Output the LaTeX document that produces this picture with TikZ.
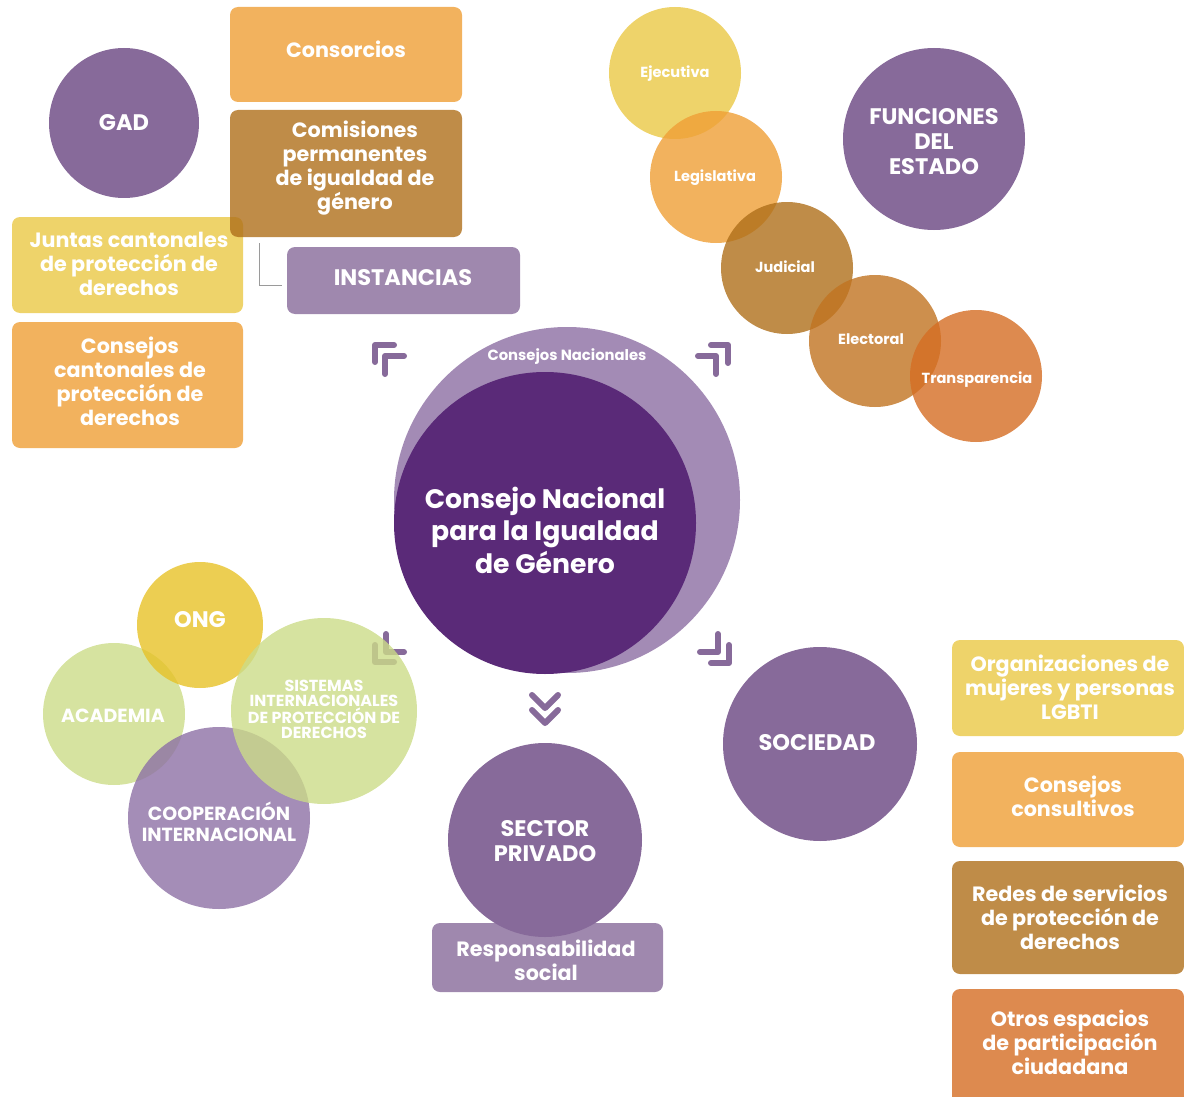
\documentclass[tikz,border=0pt]{standalone}
\usepackage{fontspec}
\setmainfont{Poppins}
\newcommand{\fsz}[2]{\fontsize{#1}{#2}\selectfont}
\definecolor{dpurple}{HTML}{5A2A78}
\definecolor{lpurple}{HTML}{A38BB5}
\definecolor{mpurple}{HTML}{876A9A}
\definecolor{bpurple}{HTML}{9F88AE}
\definecolor{cyellow}{HTML}{EED36A}
\definecolor{corange}{HTML}{F2B25E}
\definecolor{cbrown}{HTML}{BF8C48}
\definecolor{corangeB}{HTML}{DD8A4F}
% colours meant for fill opacity 0.8 over white
\definecolor{tyellow}{HTML}{EAC845}
\definecolor{torange}{HTML}{EF9F36}
\definecolor{tbrown}{HTML}{AF6F1A}
\definecolor{tbrownB}{HTML}{C17321}
\definecolor{torangeB}{HTML}{D56D23}
\definecolor{tgreen}{HTML}{CCDC88}
\definecolor{tong}{HTML}{E7C227}
\definecolor{tviolet}{HTML}{8D70A5}
\definecolor{lineg}{HTML}{9A9A9A}
\begin{document}
\begin{tikzpicture}[x=1pt,y=-1pt,
  circ/.style={circle, inner sep=0pt, minimum size=#1},
  tcirc/.style={circle, inner sep=0pt, minimum size=#1, fill opacity=0.8},
  box/.style={rectangle, rounded corners=8pt, inner sep=0pt},
  wt/.style={text=white, align=center, inner sep=0pt},
  boxtext/.style={wt, font=\bfseries\fsz{20.7}{24}},
  bigtext/.style={wt, font=\bfseries\fsz{22.5}{25}},
  smalltext/.style={wt, font=\bfseries\fsz{14.6}{16}},
  arr/.style={draw=mpurple, line width=6pt, line cap=round, line join=round},
  ]
\useasboundingbox (0,0) rectangle (1184,1097);

% ---------- decorative corner arrows ----------
\draw[arr] (375,362) -- (375,345) -- (394,345);
\draw[arr] (385,374) -- (385,356) -- (404,356);
\draw[arr] (711,345) -- (728,345) -- (728,363);
\draw[arr] (698,356) -- (716,356) -- (716,374);
\draw[arr] (375,645) -- (375,662) -- (394,662);
\draw[arr] (386,634) -- (386,652) -- (404,652);
\draw[arr] (718,634) -- (718,652) -- (700,652);
\draw[arr] (729,645) -- (729,663) -- (711,663);
\draw[arr] (532,695) -- (545,708) -- (558,695);
\draw[arr] (532,710) -- (545,723) -- (558,710);

% ---------- centre ----------
\node[circ=346pt, fill=lpurple] (cn) at (567,500) {};
\node[circ=302pt, fill=dpurple] (cnig) at (545,523) {};
\node[wt, font=\bfseries\fsz{14.8}{17}] (cn-t) at (567,357) {Consejos Nacionales};
\node[wt, font=\bfseries\fsz{26.7}{32.5}] (cnig-t) at (545,530) {Consejo Nacional\\para la Igualdad\\de Género};

% ---------- top left: GAD ----------
\node[circ=150pt, fill=mpurple] (gad) at (124,123) {};
\node[bigtext] (gad-t) at (124,123) {GAD};
\node[box, fill=corange, minimum width=232pt, minimum height=95pt] (consorcios) at (346,54.5) {};
\node[boxtext] (consorcios-t) at (346,49) {Consorcios};
\node[box, fill=cyellow, minimum width=231pt, minimum height=96pt] (juntas) at (127.5,265) {};
\node[box, fill=corange, minimum width=231pt, minimum height=126pt] (ccantonales) at (127.5,385) {};
\node[box, fill=tbrown, fill opacity=0.8, minimum width=232pt, minimum height=127pt] (comisiones) at (346,173.5) {};
\node[box, fill=bpurple, minimum width=233pt, minimum height=67pt] (instancias) at (403.5,280.5) {};
\node[boxtext] (comisiones-t) at (355,168.5) {Comisiones\\permanentes\\de igualdad de\\género};
\node[boxtext] (juntas-t) at (129,263.5) {Juntas cantonales\\de protección de\\derechos};
\node[boxtext] (ccantonales-t) at (130,381.5) {Consejos\\cantonales de\\protección de\\derechos};
\node[bigtext] (instancias-t) at (403,278) {INSTANCIAS};
\draw[lineg, line width=0.9pt] ([xshift=30pt,yshift=-6pt]comisiones.south west) |- ([xshift=-5pt,yshift=-4.5pt]instancias.west);

% ---------- top right: funciones del estado ----------
\node[circ=182pt, fill=mpurple] (funciones) at (934,139) {};
\node[bigtext] (funciones-t) at (934,142) {FUNCIONES\\DEL\\ESTADO};
\node[tcirc=132pt, fill=tyellow] (ejecutiva) at (675,73) {};
\node[tcirc=132pt, fill=torange] (legislativa) at (716,177) {};
\node[tcirc=132pt, fill=tbrown] (judicial) at (787,268) {};
\node[tcirc=132pt, fill=tbrownB] (electoral) at (875,341) {};
\node[tcirc=132pt, fill=torangeB] (transparencia) at (976,376) {};
\node[smalltext] (ejecutiva-t) at (675,74) {Ejecutiva};
\node[smalltext] (legislativa-t) at (715,178) {Legislativa};
\node[smalltext] (judicial-t) at (785,267) {Judicial};
\node[smalltext] (electoral-t) at (871,339) {Electoral};
\node[smalltext] (transparencia-t) at (977,380) {Transparencia};

% ---------- bottom right: sociedad ----------
\node[circ=194pt, fill=mpurple] (sociedad) at (820,744) {};
\node[bigtext] (sociedad-t) at (817,743) {SOCIEDAD};
\node[box, fill=cyellow, minimum width=232pt, minimum height=96pt] (organizaciones) at (1068,688) {};
\node[box, fill=corange, minimum width=232pt, minimum height=95pt] (consultivos) at (1068,799.5) {};
\node[box, fill=cbrown, minimum width=232pt, minimum height=113pt] (redes) at (1068,917.5) {};
\node[box, fill=corangeB, minimum width=232pt, minimum height=120pt] (otros) at (1068,1049) {};
\node[boxtext] (organizaciones-t) at (1070,687) {Organizaciones de\\mujeres y personas\\LGBTI};
\node[boxtext] (consultivos-t) at (1073,796) {Consejos\\consultivos};
\node[boxtext] (redes-t) at (1070,917) {Redes de servicios\\de protección de\\derechos};
\node[boxtext] (otros-t) at (1070,1042.5) {Otros espacios\\de participación\\ciudadana};

% ---------- bottom centre: sector privado ----------
\node[box, fill=bpurple, minimum width=231pt, minimum height=69pt] (responsabilidad) at (547.5,957.5) {};
\node[circ=194pt, fill=mpurple] (privado) at (545,840) {};
\node[bigtext] (privado-t) at (545,841) {SECTOR\\PRIVADO};
\node[boxtext] (responsabilidad-t) at (546,960) {Responsabilidad\\social};

% ---------- bottom left cluster ----------
\node[tcirc=142pt, fill=tgreen] (academia) at (114,714) {};
\node[tcirc=126pt, fill=tong] (ong) at (200,625) {};
\node[tcirc=182pt, fill=tviolet] (cooperacion) at (219,818) {};
\node[tcirc=186pt, fill=tgreen] (sistemas) at (324,711) {};
\node[wt, font=\bfseries\fsz{19}{20}] (academia-t) at (113,716) {ACADEMIA};
\node[bigtext] (ong-t) at (200,620) {ONG};
\node[wt, font=\bfseries\fsz{19}{21}] (cooperacion-t) at (219,821.5) {COOPERACIÓN\\INTERNACIONAL};
\node[wt, font=\bfseries\fsz{16}{15}] (sistemas-t) at (324,709.5) {SISTEMAS\\INTERNACIONALES\\DE PROTECCIÓN DE\\DERECHOS};
\end{tikzpicture}
\end{document}
